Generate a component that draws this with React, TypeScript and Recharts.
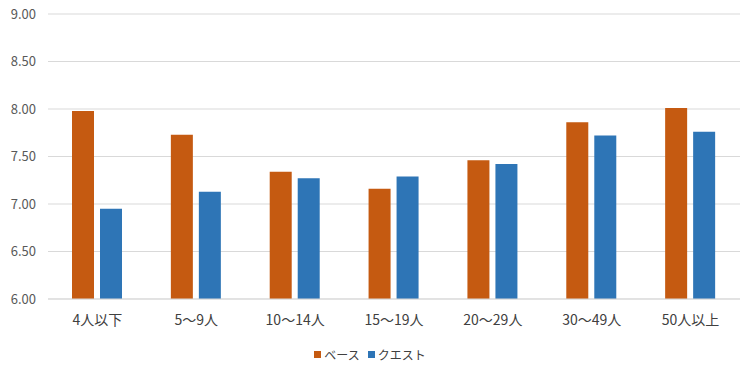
import { BarChart, Bar, XAxis, YAxis, CartesianGrid, Legend } from 'recharts';

const categories = ['4人以下', '5～9人', '10～14人', '15～19人', '20～29人', '30～49人', '50人以上'];
const baseValues = [7.98, 7.73, 7.34, 7.16, 7.46, 7.86, 8.01];
const questValues = [6.95, 7.13, 7.27, 7.29, 7.42, 7.72, 7.76];
const yTicks = [6, 6.5, 7, 7.5, 8, 8.5, 9];
const seriesInfo = [
  { key: 'base', label: 'ベース', color: '#c55a11' },
  { key: 'quest', label: 'クエスト', color: '#2e75b6' },
];

const data = categories.map((name, i) => ({
  name,
  base: baseValues[i],
  quest: questValues[i],
}));

const font = '"Noto Sans CJK JP", "Noto Sans", sans-serif';

const LegendContent = () => (
  <div style={{ display: 'flex', justifyContent: 'center', gap: 8, fontSize: 12, color: '#404040' }}>
    {seriesInfo.map((s) => (
      <div key={s.key} style={{ display: 'flex', alignItems: 'center', gap: 3 }}>
        <div style={{ width: 7, height: 7, background: s.color }} />
        <span>{s.label}</span>
      </div>
    ))}
  </div>
);

export default function App() {
  return (
    <div style={{ position: 'absolute', left: 0, top: 0, fontFamily: font }}>
      <BarChart
        width={750}
        height={376}
        data={data}
        margin={{ top: 14, right: 10, left: 0, bottom: 10 }}
        barCategoryGap={24}
        barGap={6}
      >
        <CartesianGrid stroke="#d9d9d9" vertical={false} />
        <XAxis
          dataKey="name"
          axisLine={{ stroke: '#d9d9d9' }}
          tickLine={false}
          tickSize={0}
          tickMargin={16}
          height={30}
          tick={{ fill: '#404040', fontSize: 14, fontFamily: font }}
        />
        <YAxis
          domain={[6, 9]}
          ticks={yTicks}
          width={48}
          axisLine={false}
          tickLine={false}
          tickSize={0}
          tickMargin={12}
          tickFormatter={(v: number) => v.toFixed(2)}
          tick={{ fill: '#595959', fontSize: 13, fontFamily: font }}
        />
        <Legend
          verticalAlign="bottom"
          height={37}
          content={<LegendContent />}
          wrapperStyle={{ top: 346, fontFamily: font }}
        />
        <Bar dataKey="base" name="ベース" fill="#c55a11" isAnimationActive={false} />
        <Bar dataKey="quest" name="クエスト" fill="#2e75b6" isAnimationActive={false} />
      </BarChart>
    </div>
  );
}
